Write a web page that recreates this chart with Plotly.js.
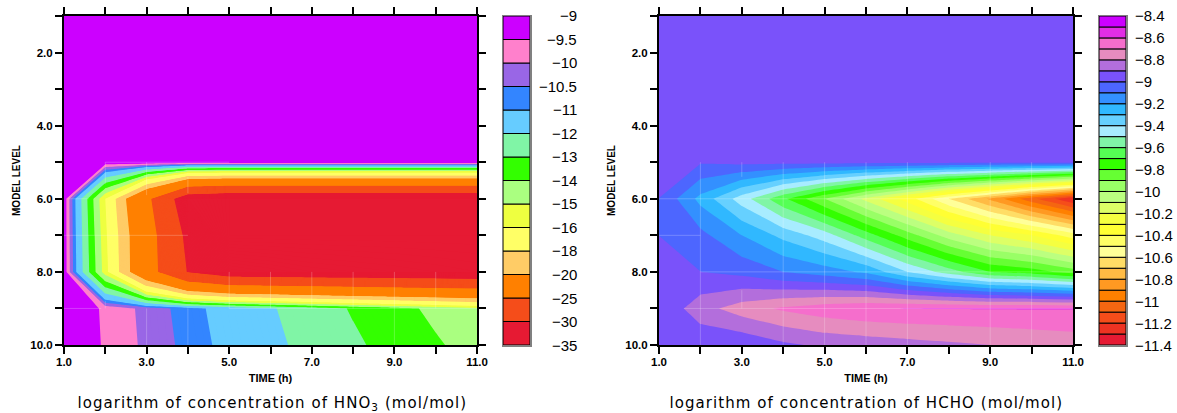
<!DOCTYPE html>
<html><head><meta charset="utf-8">
<script src="https://cdn.plot.ly/plotly-3.0.1.min.js"></script>
<style>html,body{margin:0;padding:0;background:#fff}</style></head>
<body><div id="chart" style="width:1177px;height:413px"></div>
<script>
const times=[1,2,3,4,5,6,7,8,9,10,11];
const modelLevels=[1,2,3,4,5,6,7,8,9,10];
const xTickText=['1.0','','3.0','','5.0','','7.0','','9.0','','11.0'];
const yTickText=['','2.0','','4.0','','6.0','','8.0','','10.0'];
const hno3=[
[-9,-9,-9,-9,-9,-9,-9,-9,-9,-9,-9],
[-9,-9,-9,-9,-9,-9,-9,-9,-9,-9,-9],
[-9,-9,-9,-9,-9,-9,-9,-9,-9,-9,-9],
[-9,-9,-9,-9,-9,-9,-9,-9,-9,-9,-9],
[-9,-9.1,-9,-9,-9,-9,-9,-9,-9,-9,-9],
[-9.1,-16,-24,-33,-34,-34,-34,-34,-34,-34,-34],
[-9.1,-15.7,-23,-31,-34,-34,-34,-34,-34,-34,-34],
[-9.1,-15.5,-23,-30.2,-32.8,-33,-33.2,-33.3,-33.4,-33.5,-33.6],
[-9,-9.59,-10.16,-10.75,-11.33,-11.91,-12.5,-13.09,-13.66,-14.23,-14.8],
[-9,-9.56,-10.12,-10.67,-11.23,-11.77,-12.31,-12.83,-13.36,-13.88,-14.41]];
const hcho=[
[-8.95,-8.95,-8.95,-8.95,-8.95,-8.95,-8.95,-8.95,-8.95,-8.95,-8.95],
[-8.95,-8.95,-8.95,-8.95,-8.95,-8.95,-8.95,-8.95,-8.95,-8.95,-8.95],
[-8.95,-8.95,-8.95,-8.95,-8.95,-8.95,-8.95,-8.95,-8.95,-8.95,-8.95],
[-8.95,-8.95,-8.95,-8.95,-8.95,-8.95,-8.95,-8.95,-8.95,-8.95,-8.95],
[-8.95,-8.99,-8.97,-8.97,-8.97,-8.97,-8.97,-8.97,-8.97,-8.97,-8.97],
[-9.001,-9.23,-9.45,-9.68,-9.9,-10.13,-10.35,-10.6,-10.82,-11.07,-11.3],
[-9.001,-9.07,-9.2,-9.33,-9.45,-9.65,-9.85,-10.05,-10.2,-10.3,-10.45],
[-8.93,-8.999,-9.03,-9.1,-9.15,-9.22,-9.4,-9.55,-9.7,-9.75,-9.85],
[-8.99,-8.84,-8.75,-8.684,-8.64,-8.61,-8.598,-8.596,-8.595,-8.595,-8.595],
[-8.97,-8.98,-8.98,-8.92,-8.88,-8.86,-8.84,-8.82,-8.8,-8.78,-8.76]];
// band limits from bottom to top of each colour key
const hno3Limits=[-35,-30,-25,-20,-18,-16,-15,-14,-13,-12,-11,-10.5,-10,-9.5,-9];
const hno3Colors=['#E61A33','#F54D1A','#FF8000','#FFCC66','#FFFF66','#EEFF40','#AAFF80','#33FF00','#80F5A6','#66CCFF','#3385FF','#9966E6','#FF80CC','#CC00FF'];
const hchoLimits=[-11.4,-11.3,-11.2,-11.1,-11,-10.9,-10.8,-10.7,-10.6,-10.5,-10.4,-10.3,-10.2,-10.1,-10,-9.9,-9.8,-9.7,-9.6,-9.5,-9.4,-9.3,-9.2,-9.1,-9,-8.9,-8.8,-8.7,-8.6,-8.5,-8.4];
const hchoColors=['#E61A33','#EE3322','#F54D1A','#F56611','#FF8000','#FF9922','#FFBB44','#FFDD66','#FFFF99','#FFFF66','#FFFF33','#F5FF40','#DDFF66','#BBFF80','#99FF66','#66FF33','#33FF00','#55FF55','#80F5A6','#A8ECFF','#66D0FF','#30B8FF','#3390FF','#4D66FF','#7A52FA','#B36EDC','#E68CBF','#F56ECC','#E22EE6','#CC00FF'];
const hchoKeyLabels=[-11.4,-11.2,-11,-10.8,-10.6,-10.4,-10.2,-10,-9.8,-9.6,-9.4,-9.2,-9,-8.8,-8.6,-8.4];
const hno3Title='logarithm of concentration of HNO<sub>3</sub> (mol/mol)';
const hchoTitle='logarithm of concentration of HCHO (mol/mol)';
// faint pale seams of the original contour cells: [time from, level from, time to, level to]
const hno3Seams=[[2,5,2,5.6],[3,5,3,5.9],[4,5.4,4,5.85],[3,9,3,10],[4,9,4,10],[9,9,9,10],[2,8.8,2,9],[5,8,5,9],[6,8,6,9],[7,8,7,9],[8,8,8,9],[9,8,9,9],[10,8,10,9],[1,7,4,7],[1,9,1.9,9],[2,5,5,5],[1.1,6,1.6,6],[5,9,11,9]];
const hchoSeams=[[2,5,2,10],[4,5,4,10],[5,5,5,10],[6,5,6,10],[7,5,7,10],[9,5,9,10],[10,5,10,10],[3,5,3,5.4],[3,8.5,3,9],[1,6,8,6],[1,7,2,7],[2,8,11,8],[1.6,9,11,9]];

const W=1177,H=413;
const px=v=>v/W, py=v=>1-v/H;
function scale(limits,colors,start,step,end){
  const nc=Math.floor((end-start)/step+1e-9)+1, f=v=>Math.min(1,Math.max(0,((v-start)/step+0.5)/nc));
  const s=[[0,colors[0]]];
  for(let i=1;i<colors.length;i++){const p=f(limits[i]);s.push([p,colors[i-1]]);s.push([p,colors[i]]);}
  s.push([1,colors[colors.length-1]]);
  return s;
}
function contour(z,limits,colors,step,xa,ya){
  const start=limits[0],end=limits[limits.length-1];
  return {type:'contour',x:times,y:modelLevels,z:z,xaxis:xa,yaxis:ya,autocontour:false,showscale:false,hoverinfo:'skip',
    contours:{start:start,end:end,size:step,coloring:'fill',showlines:false},line:{width:0,smoothing:0},
    colorscale:scale(limits,colors,start,step,end)};
}
function seams(list,xa,ya){
  const x=[],y=[];
  list.forEach(s=>{x.push(s[0],s[2],null);y.push(s[1],s[3],null);});
  return {type:'scatter',mode:'lines',x:x,y:y,xaxis:xa,yaxis:ya,connectgaps:false,line:{color:'rgba(255,255,255,0.22)',width:1},hoverinfo:'skip',showlegend:false};
}
function key(colors,xa,ya){
  return {type:'bar',x:colors.map(()=>0),y:colors.map(()=>1),base:colors.map((c,i)=>i),width:1,xaxis:xa,yaxis:ya,
    marker:{color:colors,line:{color:'#000',width:1}},hoverinfo:'skip',showlegend:false};
}
const tickFont={family:'Liberation Sans',size:11.5,color:'#000',weight:'bold'};
function xAxis(x0,x1,anchor){return {domain:[px(x0),px(x1)],range:[1,11],anchor:anchor,tickmode:'array',tickvals:times,ticktext:xTickText,
  ticks:'outside',ticklen:7,tickwidth:2,tickcolor:'#000',mirror:'ticks',showline:true,linewidth:2,linecolor:'#000',showgrid:false,zeroline:false,
  tickfont:tickFont,ticklabelstandoff:-2,title:{text:'<b>TIME (h)</b>',font:{family:'Liberation Sans',size:11,color:'#000'},standoff:8},layer:'above traces',automargin:false};}
function yAxis(anchor){return {domain:[py(345),py(16)],range:[10,1],anchor:anchor,tickmode:'array',tickvals:modelLevels,ticktext:yTickText,
  ticks:'outside',ticklen:7,tickwidth:2,tickcolor:'#000',mirror:'ticks',showline:true,linewidth:2,linecolor:'#000',showgrid:false,zeroline:false,
  tickfont:tickFont,title:{text:'<b>MODEL LEVEL</b>',font:{family:'Liberation Sans',size:10,color:'#000'},standoff:8},layer:'above traces',automargin:false};}
function keyX(x0,x1,anchor){return {domain:[px(x0),px(x1)],range:[-0.5,0.5],anchor:anchor,showticklabels:false,ticks:'',showgrid:false,zeroline:false,showline:true,mirror:true,linecolor:'#808080',linewidth:1.5};}
function keyY(n,anchor){return {domain:[py(345),py(16)],range:[0,n],anchor:anchor,showticklabels:false,ticks:'',showgrid:false,zeroline:false,showline:true,mirror:true,linecolor:'#808080',linewidth:1.5};}
const label=v=>(v<0?'\u2212':'')+Math.abs(v);
const ann=[];
hno3Limits.forEach((v,i)=>ann.push({xref:'paper',yref:'y2',x:px(579),y:i,xanchor:'right',yanchor:'middle',text:label(v),showarrow:false,font:{family:'Liberation Sans',size:15,color:'#000'}}));
hchoKeyLabels.forEach(v=>ann.push({xref:'paper',yref:'y4',x:px(1133),y:hchoLimits.findIndex(l=>Math.abs(l-v)<1e-6),xanchor:'left',yanchor:'middle',text:label(v),showarrow:false,font:{family:'Liberation Sans',size:15,color:'#000'}}));
const titleFont={family:'DejaVu Sans',size:15,color:'#000'};
ann.push({xref:'paper',yref:'paper',x:px(272),y:py(403),xanchor:'center',yanchor:'middle',text:hno3Title,showarrow:false,font:titleFont});
ann.push({xref:'paper',yref:'paper',x:px(866),y:py(403),xanchor:'center',yanchor:'middle',text:hchoTitle,showarrow:false,font:titleFont});

const data=[contour(hno3,hno3Limits,hno3Colors,0.1,'x','y'),seams(hno3Seams,'x','y'),key(hno3Colors,'x2','y2'),
            contour(hcho,hchoLimits,hchoColors,0.1,'x3','y3'),seams(hchoSeams,'x3','y3'),key(hchoColors,'x4','y4')];
const layout={width:W,height:H,margin:{l:0,r:0,t:0,b:0,pad:0},paper_bgcolor:'#fff',plot_bgcolor:'#fff',showlegend:false,barmode:'overlay',
  xaxis:xAxis(64,477,'y'),yaxis:yAxis('x'),xaxis3:xAxis(659,1073,'y3'),yaxis3:yAxis('x3'),
  xaxis2:keyX(503,530,'y2'),yaxis2:keyY(hno3Colors.length,'x2'),xaxis4:keyX(1099,1126,'y4'),yaxis4:keyY(hchoColors.length,'x4'),
  annotations:ann};
Plotly.newPlot('chart',data,layout,{staticPlot:true,displayModeBar:false}).then(gd=>{
  gd.querySelectorAll('.annotation-text').forEach(t=>{if(t.textContent.indexOf('logarithm')===0)t.style.letterSpacing='1.07px';});
});
</script></body></html>
